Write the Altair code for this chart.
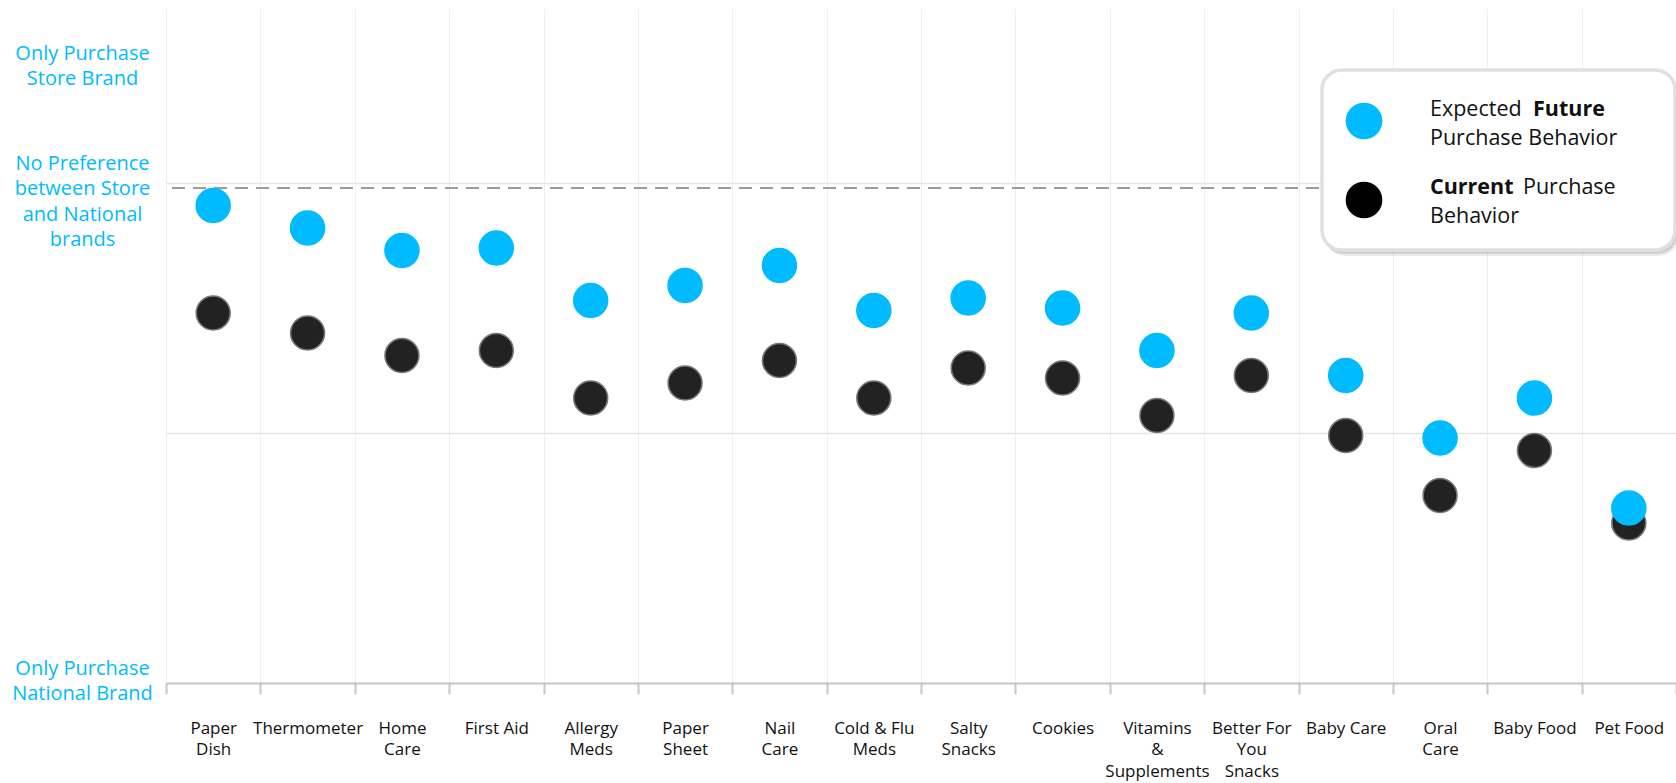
import altair as alt
import pandas as pd

# ---------------- data ----------------
categories = ["Paper Dish", "Thermometer", "Home Care", "First Aid", "Allergy Meds",
              "Paper Sheet", "Nail Care", "Cold & Flu Meds", "Salty Snacks", "Cookies",
              "Vitamins & Supplements", "Better For You Snacks", "Baby Care", "Oral Care",
              "Baby Food", "Pet Food"]
tick_labels = ["Paper|Dish", "Thermometer", "Home|Care", "First Aid", "Allergy|Meds",
               "Paper|Sheet", "Nail|Care", "Cold & Flu|Meds", "Salty|Snacks", "Cookies",
               "Vitamins|&|Supplements", "Better For|You|Snacks", "Baby Care", "Oral|Care",
               "Baby Food", "Pet Food"]
future = [191, 182, 173, 174, 153, 159, 167, 149, 154, 150, 133, 148, 123, 98, 114, 70]
current = [148, 140, 131, 133, 114, 120, 129, 114, 126, 122, 107, 123, 99, 75, 93, 64]
series_names = ["Current Purchase Behavior", "Expected Future Purchase Behavior"]

y_tick_values = [6, 208, 252]
y_tick_labels = ["Only Purchase|National Brand",
                 "No Preference|between Store|and National|brands",
                 "Only Purchase|Store Brand"]
grid_values = [100, 200]
no_preference_line = [198]

BLUE = "#00BBFF"
FONT = "Open Sans"

rows = []
for s_name, vals in zip(series_names, [current, future]):
    for cat, lab, v in zip(categories, tick_labels, vals):
        rows.append({"category": cat, "label": lab, "series": s_name, "value": v})
df = pd.DataFrame(rows)

# ---------------- axes ----------------
y_expr_parts = []
for v, lab in zip(y_tick_values, y_tick_labels):
    arr = "[" + ",".join("'" + p + "'" for p in lab.split("|")) + "]"
    y_expr_parts.append(f"datum.value == {v} ? {arr}")
y_label_expr = " : ".join(y_expr_parts) + " : ''"
grid_test = " || ".join(f"datum.value == {g}" for g in grid_values)

x_axis = alt.Axis(title=None, labelExpr="split(datum.label, '|')", labelFont=FONT,
                  labelFontSize=17, labelColor="#111111", labelLineHeight=21.5,
                  labelBaseline="top", labelPadding=26, labelAngle=0, tickBand="extent",
                  tickSize=11, tickWidth=2, tickColor="#c6c6c6", domainColor="#c6c6c6",
                  domainWidth=2, grid=True, gridColor="#efefef", gridWidth=1,
                  labelOverlap=False, labelLimit=300)
y_axis = alt.Axis(title=None, values=sorted(y_tick_values + grid_values),
                  labelExpr=y_label_expr, labelFont=FONT, labelFontSize=20,
                  labelColor=BLUE, labelLineHeight=25.5, labelAlign="center",
                  labelBaseline="middle", labelPadding=84, ticks=False, tickSize=0,
                  domain=False, grid=True, gridColor="#e6e6e6", gridWidth=1.5,
                  gridOpacity={"condition": {"test": grid_test, "value": 1}, "value": 0},
                  labelOverlap=False, labelFlush=False, labelBound=False)

x_enc = alt.X("label:N", sort=tick_labels,
              scale=alt.Scale(type="band", paddingInner=0, paddingOuter=0), axis=x_axis)
y_scale = alt.Scale(domain=[0, 270], nice=False, zero=False)

points = alt.Chart(df).mark_circle(size=1150, opacity=1, strokeWidth=1.6).encode(
    x=x_enc,
    y=alt.Y("value:Q", scale=y_scale, axis=y_axis),
    color=alt.Color("series:N", scale=alt.Scale(domain=series_names, range=["#222222", BLUE]),
                    legend=None),
    stroke=alt.Stroke("series:N", scale=alt.Scale(domain=series_names, range=["#777777", BLUE]),
                      legend=None),
)

rule = alt.Chart(pd.DataFrame({"v": no_preference_line})).mark_rule(
    color="#9c9c9c", strokeWidth=2, strokeDash=[13, 8]
).encode(y=alt.Y("v:Q", scale=y_scale))

one = pd.DataFrame({"k": [0]})

def box(x1, x2, y1, y2, **kw):
    return alt.Chart(one).mark_rect(**kw).encode(
        x=alt.value(x1), x2=alt.value(x2), y=alt.value(y1), y2=alt.value(y2))

shadow1 = box(1158, 1514, 65, 248, cornerRadius=22, fill="#000000", opacity=0.07)
shadow2 = box(1157, 1512, 64, 246, cornerRadius=21, fill="#000000", opacity=0.12)
legend_box = box(1156, 1509, 62, 242, cornerRadius=20, fill="white",
                 stroke="#e0e0e0", strokeWidth=3.5)

def sym(y, color):
    return alt.Chart(one).mark_circle(size=1350, opacity=1, color=color).encode(
        x=alt.value(1198), y=alt.value(y))

def txt(x, y, s, bold=False):
    return alt.Chart(pd.DataFrame({"t": [s]})).mark_text(
        align="left", baseline="middle", font=FONT, fontSize=21.5,
        fontWeight="bold" if bold else "normal", color="#111111"
    ).encode(x=alt.value(x), y=alt.value(y), text="t:N")

legend_layers = [shadow1, shadow2, legend_box,
                 sym(113, BLUE), sym(192, "#000000"),
                 txt(1264, 102, "Expected"), txt(1367, 102, "Future", True),
                 txt(1264, 131, "Purchase Behavior"),
                 txt(1264, 180, "Current", True), txt(1357, 180, "Purchase"),
                 txt(1264, 209, "Behavior")]

chart = alt.layer(rule, points, *legend_layers).properties(
    width=1510, height=675,
    autosize=alt.AutoSizeParams(type="none"),
    padding={"left": 166, "top": 8, "right": 0, "bottom": 100},
    background="white",
).configure_view(stroke=None)

chart.save("out.html", embed_options={"renderer": "svg", "actions": False})
